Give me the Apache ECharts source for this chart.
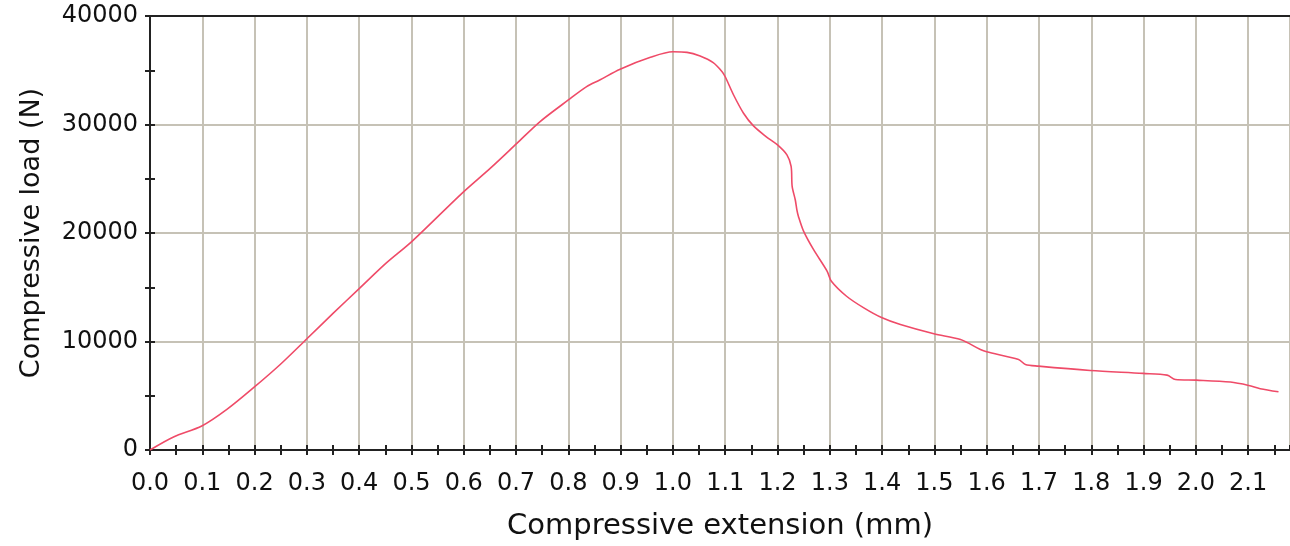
<!DOCTYPE html>
<html>
<head>
<meta charset="utf-8">
<script src="https://cdn.jsdelivr.net/npm/echarts@6/dist/echarts.min.js"></script>
<style>
html,body{margin:0;padding:0;background:#fff;}
#c{width:1290px;height:546px;}
</style>
</head>
<body>
<div id="c"></div>
<script>
// Data
var extension = [0, 0.045, 0.099, 0.147, 0.198, 0.249, 0.300, 0.351, 0.398, 0.452, 0.501, 0.597, 0.651, 0.702, 0.746, 0.800, 0.835, 0.860, 0.899, 0.957, 1.000, 1.027, 1.052, 1.077, 1.094, 1.100, 1.116, 1.135, 1.154, 1.178, 1.200, 1.218, 1.226, 1.228, 1.234, 1.237, 1.240, 1.250, 1.269, 1.295, 1.303, 1.332, 1.365, 1.400, 1.435, 1.499, 1.550, 1.588, 1.600, 1.661, 1.674, 1.699, 1.798, 1.899, 1.945, 1.961, 2.001, 2.066, 2.101, 2.123, 2.158];
var load = [0, 1200, 2210, 3740, 5740, 7880, 10250, 12640, 14780, 17240, 19230, 23680, 25980, 28280, 30270, 32260, 33490, 34100, 35100, 36190, 36700, 36650, 36310, 35700, 34870, 34400, 32720, 31040, 29870, 28890, 28120, 27200, 26130, 24290, 23040, 22140, 21530, 20150, 18460, 16470, 15550, 14170, 13100, 12180, 11560, 10710, 10180, 9260, 9050, 8340, 7880, 7730, 7330, 7060, 6900, 6500, 6440, 6260, 5950, 5650, 5370];
var xTickLabels = ['0.0','0.1','0.2','0.3','0.4','0.5','0.6','0.7','0.8','0.9','1.0','1.1','1.2','1.3','1.4','1.5','1.6','1.7','1.8','1.9','2.0','2.1'];
var yTickLabels = ['0','10000','20000','30000','40000'];

var points = extension.map(function(x, i){ return [x, load[i]]; });
var FONT = 'DejaVu Sans';
var XMAX = 2.18;

function xLabel(v){
  var k = Math.round(v * 20);
  if (Math.abs(v * 20 - k) > 1e-6 || k % 2 !== 0) return '';
  return xTickLabels[k / 2] || '';
}
function yLabel(v){
  var k = Math.round(v / 10000);
  if (Math.abs(v - k * 10000) > 1e-6) return '';
  return yTickLabels[k] || '';
}

var chart = echarts.init(document.getElementById('c'));
chart.setOption({
  animation: false,
  backgroundColor: '#fff',
  grid: {left: 150, right: 0, top: 16, bottom: 95, containLabel: false},
  xAxis: [
    {type: 'value', min: 0, max: XMAX, interval: 0.05, position: 'bottom',
     axisLine: {show: true, onZero: false, lineStyle: {color: '#222', width: 2}},
     axisTick: {show: true, inside: false, length: 5, lineStyle: {color: '#222', width: 2}},
     axisLabel: {formatter: xLabel, showMaxLabel: false, fontFamily: FONT, fontSize: 24, color: '#111', margin: 22},
     splitLine: {show: false},
     name: 'Compressive extension (mm)', nameLocation: 'middle', nameGap: 62,
     nameTextStyle: {fontFamily: FONT, fontSize: 29, color: '#111'}},
    {type: 'value', min: 0, max: XMAX, interval: 0.05, position: 'bottom',
     axisLine: {show: false, onZero: false},
     axisTick: {show: true, inside: true, length: 5, lineStyle: {color: '#222', width: 2}},
     axisLabel: {show: false}, splitLine: {show: false}},
    {type: 'value', min: 0, max: XMAX, interval: 0.1, position: 'bottom',
     axisLine: {show: false, onZero: false}, axisTick: {show: false}, axisLabel: {show: false},
     splitLine: {show: true, lineStyle: {color: '#c6c2b6', width: 2}}},
    {type: 'value', min: 0, max: XMAX, position: 'top',
     axisLine: {show: true, onZero: false, lineStyle: {color: '#222', width: 2}},
     axisTick: {show: false}, axisLabel: {show: false}, splitLine: {show: false}}
  ],
  yAxis: [
    {type: 'value', min: 0, max: 40000, interval: 5000, position: 'left',
     axisLine: {show: true, onZero: false, lineStyle: {color: '#222', width: 2}},
     axisTick: {show: true, inside: false, length: 5, lineStyle: {color: '#222', width: 2}},
     axisLabel: {formatter: yLabel, fontFamily: FONT, fontSize: 24, color: '#111', margin: 12},
     splitLine: {show: false},
     name: 'Compressive load (N)', nameLocation: 'middle', nameGap: 105,
     nameTextStyle: {fontFamily: FONT, fontSize: 27, color: '#111'}},
    {type: 'value', min: 0, max: 40000, interval: 5000, position: 'left',
     axisLine: {show: false, onZero: false},
     axisTick: {show: true, inside: true, length: 5, lineStyle: {color: '#222', width: 2}},
     axisLabel: {show: false}, splitLine: {show: false}},
    {type: 'value', min: 0, max: 40000, interval: 10000, position: 'left',
     axisLine: {show: false, onZero: false}, axisTick: {show: false}, axisLabel: {show: false},
     splitLine: {show: true, lineStyle: {color: '#c6c2b6', width: 2}}}
  ],
  series: [{
    type: 'line', xAxisIndex: 0, yAxisIndex: 0, data: points,
    showSymbol: false, smooth: 0.3,
    lineStyle: {color: '#ef4b68', width: 1.6}, z: 5
  }]
});
</script>
</body>
</html>
